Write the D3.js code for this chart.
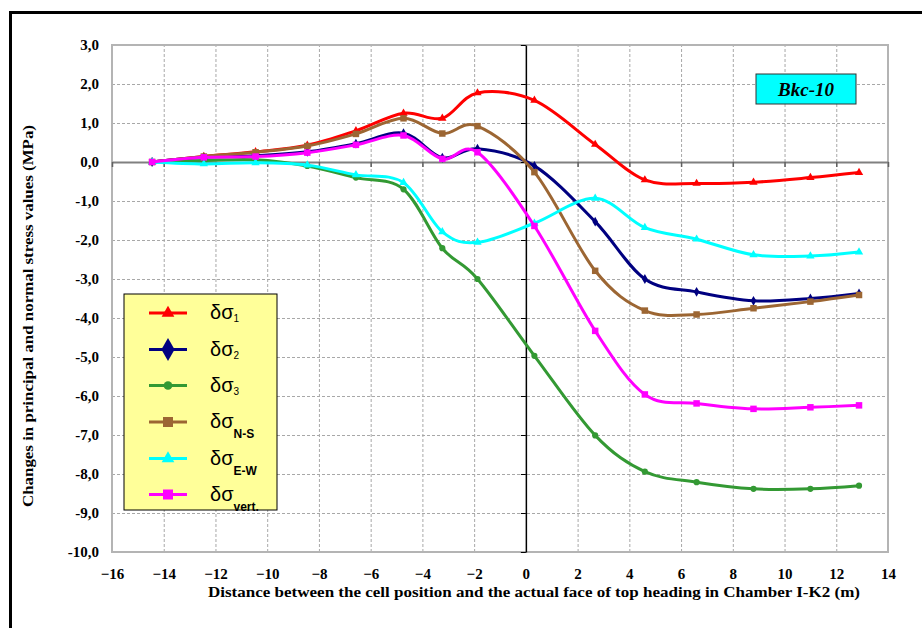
<!DOCTYPE html>
<html>
<head>
<meta charset="utf-8">
<script src="https://cdn.jsdelivr.net/npm/d3@7/dist/d3.min.js"></script>
<style>
  html, body { margin: 0; padding: 0; background: #fff; }
  svg { display: block; }
</style>
</head>
<body>
<svg id="chart" width="922" height="628"></svg>
<script>
// Distance of the measuring cell from the top-heading face (m)
const distance = [-14.45, -12.45, -10.45, -8.45, -6.57, -4.73, -3.23, -1.87, 0.33, 2.68, 4.6, 6.6, 8.8, 11.0, 12.88];

// Stress changes (MPa)
const dSigma1 = [0, 0.14, 0.26, 0.43, 0.80, 1.25, 1.12, 1.77, 1.58, 0.45, -0.46, -0.55, -0.52, -0.40, -0.27];
const dSigma2 = [0, 0.12, 0.16, 0.26, 0.47, 0.74, 0.11, 0.34, -0.10, -1.53, -3.00, -3.33, -3.56, -3.50, -3.37];
const dSigma3 = [0, 0.04, 0.06, -0.10, -0.40, -0.70, -2.21, -3.00, -4.97, -7.01, -7.94, -8.21, -8.38, -8.38, -8.30];
const dSigmaNS = [0, 0.14, 0.25, 0.41, 0.72, 1.12, 0.73, 0.92, -0.26, -2.79, -3.81, -3.91, -3.75, -3.58, -3.41];
const dSigmaEW = [0, -0.05, -0.02, -0.08, -0.33, -0.53, -1.79, -2.06, -1.57, -0.93, -1.68, -1.98, -2.38, -2.41, -2.31];
const dSigmaVert = [0, 0.12, 0.14, 0.24, 0.44, 0.68, 0.08, 0.25, -1.64, -4.33, -5.96, -6.19, -6.33, -6.29, -6.24];

const xTicks = [-16, -14, -12, -10, -8, -6, -4, -2, 0, 2, 4, 6, 8, 10, 12, 14];
const yTicks = [3, 2, 1, 0, -1, -2, -3, -4, -5, -6, -7, -8, -9, -10];

const seriesNames = ["1", "2", "3", "N-S", "E-W", "vert."];
const seriesValues = [dSigma1, dSigma2, dSigma3, dSigmaNS, dSigmaEW, dSigmaVert];
const seriesColors = ["#ff0000", "#000080", "#339933", "#9c6633", "#00ffff", "#ff00ff"];
const seriesMarkers = ["triangle", "diamond", "circle", "square", "triangle", "square"];

const xTitle = "Distance between the cell position and the actual face of top heading in Chamber I-K2 (m)";
const yTitle = "Changes in principal and normal stress values (MPa)";
const tagText = "Bkc-10";

const svg = d3.select("#chart");
const plot = { left: 112, right: 888, top: 45, bottom: 552 };

const x = d3.scaleLinear().domain([-16, 14]).range([plot.left, plot.right]);
const y = d3.scaleLinear().domain([-10, 3]).range([plot.bottom, plot.top]);

const serif = "'Liberation Serif', 'Times New Roman', serif";
const sans = "'Liberation Sans', Arial, sans-serif";

// Outer frame (runs off the right and bottom edges)
svg.append("rect")
  .attr("x", 10.5).attr("y", 12.5)
  .attr("width", 960).attr("height", 700)
  .attr("fill", "none").attr("stroke", "#000").attr("stroke-width", 3);

// Dashed grid
const grid = svg.append("g");
grid.append("g")
  .attr("transform", `translate(0,${plot.bottom})`)
  .call(d3.axisBottom(x).tickValues(xTicks.filter(t => t > -16 && t < 14 && t !== 0))
    .tickSize(-(plot.bottom - plot.top)).tickFormat(""))
  .call(g => g.select(".domain").remove())
  .call(g => g.selectAll("line").attr("stroke", "#a8a8a8").attr("stroke-dasharray", "3,2"));
grid.append("g")
  .attr("transform", `translate(${plot.left},0)`)
  .call(d3.axisLeft(y).tickValues(yTicks.filter(t => t > -10 && t < 3 && t !== 0))
    .tickSize(-(plot.right - plot.left)).tickFormat(""))
  .call(g => g.select(".domain").remove())
  .call(g => g.selectAll("line").attr("stroke", "#a8a8a8").attr("stroke-dasharray", "3,2"));

// Plot border
svg.append("rect")
  .attr("x", plot.left).attr("y", plot.top)
  .attr("width", plot.right - plot.left).attr("height", plot.bottom - plot.top)
  .attr("fill", "none").attr("stroke", "#b4b4b4").attr("stroke-width", 2);

// Zero lines with tick marks
const xZero = svg.append("g")
  .attr("transform", `translate(0,${y(0)})`)
  .call(d3.axisBottom(x).tickValues(xTicks).tickSize(5).tickSizeOuter(0).tickFormat(""));
xZero.select(".domain").attr("stroke", "#808080").attr("stroke-width", 2);
xZero.selectAll(".tick line").attr("stroke", "#606060").attr("stroke-width", 1.5);

const yZero = svg.append("g")
  .attr("transform", `translate(${x(0)},0)`)
  .call(d3.axisLeft(y).tickValues(yTicks).tickSize(5).tickSizeOuter(0).tickFormat(""));
yZero.select(".domain").attr("stroke", "#000").attr("stroke-width", 1.5);
yZero.selectAll(".tick line").attr("stroke", "#000").attr("stroke-width", 1);

// Tick labels
const xLab = svg.append("g")
  .attr("transform", `translate(0,${plot.bottom + 10})`)
  .call(d3.axisBottom(x).tickValues(xTicks).tickSize(0).tickPadding(6).tickFormat(d3.format("d")));
xLab.select(".domain").remove();
xLab.selectAll("text").attr("font-family", serif).attr("font-weight", "bold")
  .attr("font-size", 15).attr("fill", "#000");

const yLab = svg.append("g")
  .attr("transform", `translate(${plot.left - 13},0)`)
  .call(d3.axisLeft(y).tickValues(yTicks).tickSize(0).tickPadding(0)
    .tickFormat(d => d.toFixed(1).replace(".", ",")));
yLab.select(".domain").remove();
yLab.selectAll("text").attr("font-family", serif).attr("font-weight", "bold")
  .attr("font-size", 15).attr("fill", "#000");

// Axis titles
svg.append("text")
  .attr("x", 534).attr("y", 597)
  .attr("text-anchor", "middle")
  .attr("font-family", serif).attr("font-weight", "bold").attr("font-size", 15)
  .attr("textLength", 652).attr("lengthAdjust", "spacingAndGlyphs")
  .text(xTitle);

svg.append("text")
  .attr("transform", "translate(33,316) rotate(-90)")
  .attr("text-anchor", "middle")
  .attr("font-family", serif).attr("font-weight", "bold").attr("font-size", 15)
  .attr("textLength", 382).attr("lengthAdjust", "spacingAndGlyphs")
  .text(yTitle);

// Marker shapes
function markerPath(kind, size) {
  const map = {
    triangle: d3.symbolTriangle,
    diamond: d3.symbolDiamond,
    circle: d3.symbolCircle,
    square: d3.symbolSquare
  };
  return d3.symbol().type(map[kind]).size(size)();
}
const plotMarkerSize = { triangle: 30, diamond: 28, circle: 30, square: 42 };
const legendMarkerSize = { triangle: 70, diamond: 150, circle: 60, square: 100 };

// Smoothed series lines with markers
const line = d3.line()
  .x((d, i) => x(distance[i]))
  .y(d => y(d))
  .curve(d3.curveCatmullRom.alpha(0));

seriesValues.forEach((vals, k) => {
  const g = svg.append("g");
  g.append("path")
    .datum(vals)
    .attr("d", line)
    .attr("fill", "none")
    .attr("stroke", seriesColors[k])
    .attr("stroke-width", 3)
    .attr("stroke-linejoin", "round");
  g.selectAll("path.mk")
    .data(vals)
    .join("path")
    .attr("class", "mk")
    .attr("transform", (d, i) => `translate(${x(distance[i])},${y(d)})`)
    .attr("d", markerPath(seriesMarkers[k], plotMarkerSize[seriesMarkers[k]]))
    .attr("fill", seriesColors[k]);
});

// Site tag
const tag = svg.append("g").attr("transform", "translate(756,74)");
tag.append("rect")
  .attr("width", 100).attr("height", 30)
  .attr("fill", "#00ffff").attr("stroke", "#333").attr("stroke-width", 1);
tag.append("text")
  .attr("x", 50).attr("y", 21.5)
  .attr("text-anchor", "middle")
  .attr("font-family", serif).attr("font-weight", "bold").attr("font-style", "italic")
  .attr("font-size", 19)
  .text(tagText);

// Legend
const legend = svg.append("g").attr("transform", "translate(124,294)");
legend.append("rect")
  .attr("width", 153).attr("height", 216)
  .attr("fill", "#ffff99").attr("stroke", "#000").attr("stroke-width", 1);

const rowY = [19, 55.5, 91.5, 128, 164.5, 200.5];
seriesNames.forEach((name, k) => {
  const row = legend.append("g").attr("transform", `translate(0,${rowY[k]})`);
  row.append("line")
    .attr("x1", 25).attr("x2", 63)
    .attr("stroke", seriesColors[k]).attr("stroke-width", 3);
  row.append("path")
    .attr("transform", "translate(44,0)")
    .attr("d", markerPath(seriesMarkers[k], legendMarkerSize[seriesMarkers[k]]))
    .attr("fill", seriesColors[k]);
  const t = row.append("text")
    .attr("x", 86).attr("y", 6)
    .attr("font-family", sans).attr("font-size", 20).attr("fill", "#000");
  t.append("tspan").text("δσ");
  const long = name.length > 1;
  t.append("tspan")
    .attr("dy", long ? 10 : 3)
    .attr("font-size", long ? 12 : 10)
    .attr("font-weight", long ? "bold" : "normal")
    .text(name);
});
</script>
</body>
</html>
